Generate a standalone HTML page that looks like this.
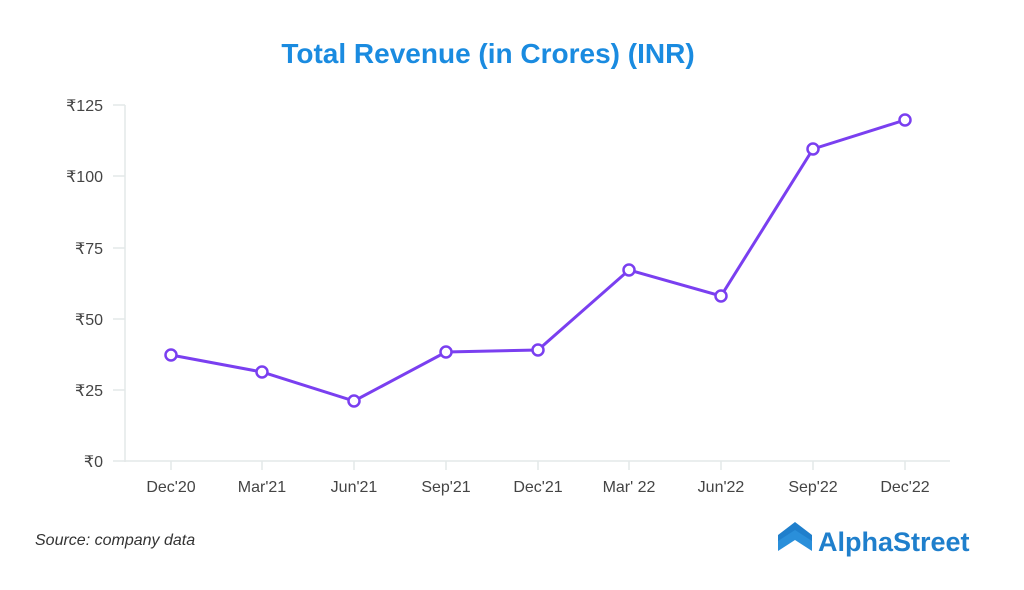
<!DOCTYPE html>
<html><head><style>body{margin:0;background:#fff}svg text{font-family:"Liberation Sans",sans-serif}</style></head>
<body>
<svg width="1024" height="585" viewBox="0 0 1024 585" xmlns="http://www.w3.org/2000/svg">
<text x="488" y="63" text-anchor="middle" font-size="28" font-weight="bold" fill="#1a8be0">Total Revenue (in Crores) (INR)</text>
<g stroke="#e3e8e8" stroke-width="1.5">
<line x1="125" y1="105" x2="125" y2="462"/>
<line x1="113" y1="461" x2="950" y2="461"/>
<line x1="113" y1="105" x2="125" y2="105"/><line x1="113" y1="176" x2="125" y2="176"/>
<line x1="113" y1="248" x2="125" y2="248"/><line x1="113" y1="319" x2="125" y2="319"/>
<line x1="113" y1="390" x2="125" y2="390"/>
<line x1="171" y1="461" x2="171" y2="470"/><line x1="262" y1="461" x2="262" y2="470"/>
<line x1="354" y1="461" x2="354" y2="470"/><line x1="446" y1="461" x2="446" y2="470"/>
<line x1="538" y1="461" x2="538" y2="470"/><line x1="629" y1="461" x2="629" y2="470"/>
<line x1="721" y1="461" x2="721" y2="470"/><line x1="813" y1="461" x2="813" y2="470"/>
<line x1="905" y1="461" x2="905" y2="470"/>
</g>
<g font-size="16" fill="#444" text-anchor="end">
<text x="103" y="111">₹125</text><text x="103" y="182">₹100</text><text x="103" y="254">₹75</text>
<text x="103" y="325">₹50</text><text x="103" y="396">₹25</text><text x="103" y="467">₹0</text>
</g>
<g font-size="16" fill="#444" text-anchor="middle">
<text x="171" y="492">Dec'20</text><text x="262" y="492">Mar'21</text><text x="354" y="492">Jun'21</text>
<text x="446" y="492">Sep'21</text><text x="538" y="492">Dec'21</text><text x="629" y="492">Mar' 22</text>
<text x="721" y="492">Jun'22</text><text x="813" y="492">Sep'22</text><text x="905" y="492">Dec'22</text>
</g>
<polyline fill="none" stroke="#7a3ff0" stroke-width="3" points="171,355 262,372 354,401 446,352 538,350 629,270 721,296 813,149 905,120"/>
<g fill="#fff" stroke="#7a3ff0" stroke-width="2.5">
<circle cx="171" cy="355" r="5.5"/><circle cx="262" cy="372" r="5.5"/><circle cx="354" cy="401" r="5.5"/>
<circle cx="446" cy="352" r="5.5"/><circle cx="538" cy="350" r="5.5"/><circle cx="629" cy="270" r="5.5"/>
<circle cx="721" cy="296" r="5.5"/><circle cx="813" cy="149" r="5.5"/><circle cx="905" cy="120" r="5.5"/>
</g>
<text x="35" y="545" font-size="16" font-style="italic" fill="#333">Source: company data</text>
<g fill="#1f7fcc">
<polygon points="778,535 795,522 812,535 812,545 795,532 778,545"/>
<polygon points="778,541 795,530 812,541 812,551 795,540 778,551" fill="#2a8fda"/>
</g>
<text x="818" y="551" font-size="27" font-weight="bold" fill="#1f7fcc">AlphaStreet</text>
</svg>
</body></html>
